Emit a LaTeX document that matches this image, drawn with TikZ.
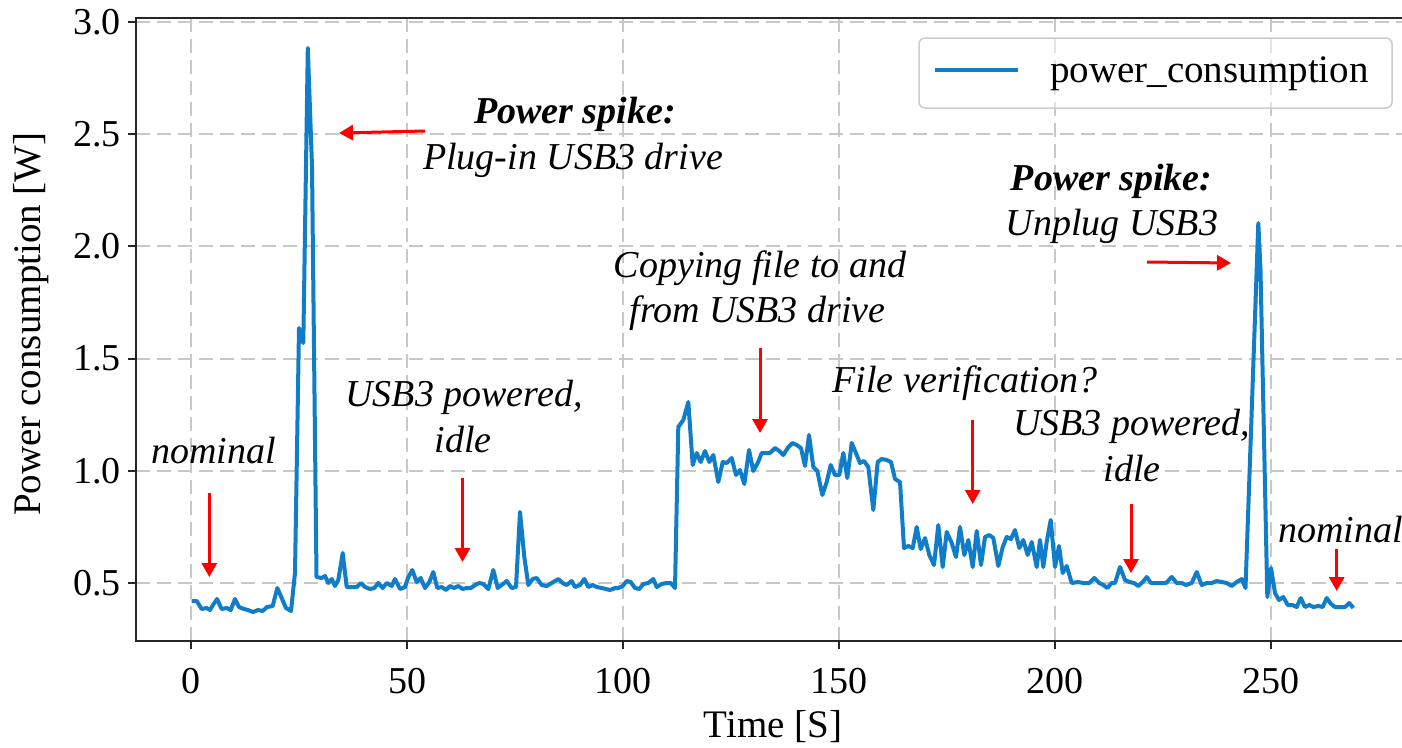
\documentclass[tikz,border=0pt]{standalone}
\usepackage{fontspec}
\setmainfont{Liberation Serif}
\usetikzlibrary{arrows.meta}
\definecolor{curveblue}{RGB}{16,125,200}
\definecolor{gridgray}{RGB}{200,200,200}
\begin{document}
\begin{tikzpicture}[x=1pt,y=-1pt,
  gridline/.style={draw=gridgray, line width=2pt, dash pattern=on 14pt off 7pt},
  spineline/.style={draw=black!85, line width=2.5pt},
  ticklabel/.style={font=\fontsize{38}{44}\selectfont, inner sep=0pt},
  axlabel/.style={font=\fontsize{39}{45}\selectfont, inner sep=0pt},
  anntext/.style={font=\fontsize{38}{44}\selectfont\itshape, anchor=base, inner sep=0pt},
  annbold/.style={font=\fontsize{38}{44}\selectfont\bfseries\itshape, anchor=base, inner sep=0pt},
  redarrow/.style={draw=red, line width=3pt, -{Triangle[length=14pt,width=15pt]}},
  datacurve/.style={draw=curveblue, line width=4pt, line join=round}
]
\clip (0,0) rectangle (1402,747);
\fill[white] (0,0) rectangle (1402,747);

% grid
\foreach \gx in {191,407,623,839,1055,1271} \draw[gridline] (\gx,641) -- (\gx,18);
\foreach \gy in {583.3,471,358.7,246.3,134,21.7} \draw[gridline] (136,\gy) -- (1402,\gy);

% spines and ticks
\draw[spineline] (1402,18) -- (136,18) -- (136,641) -- (1402,641);
\foreach \gy in {583.3,471,358.7,246.3,134,21.7} \draw[spineline,line width=2pt] (128,\gy) -- (136,\gy);
\foreach \gx in {191,407,623,839,1055,1271} \draw[spineline,line width=2pt] (\gx,641) -- (\gx,649);

% tick labels
\foreach \gy/\lab [count=\i] in {583.3/0.5,471/1.0,358.7/1.5,246.3/2.0,134/2.5,21.7/3.0}
  \node[ticklabel, anchor=east] (yl\i) at (121,\gy) {\lab};
\foreach \gx/\lab [count=\i] in {191/0,407/50,623/100,839/150,1055/200,1271/250}
  \node[ticklabel, anchor=base] (xl\i) at (\gx,693) {\lab};

% axis labels
\node[axlabel, anchor=base] (xlabel) at (773,737) {Time [S]};
\node[axlabel, anchor=base, rotate=90] (ylabel) at (40,324) {Power consumption [W]};

% legend
\draw[draw=gray!40, line width=1.5pt, rounded corners=6pt, fill=white, fill opacity=0.5] (919,38) rectangle (1392,108);
\coordinate (lg1) at (935,70);
\coordinate (lg2) at (1018,70);
\draw[datacurve] (lg1) -- (lg2);
\node[axlabel, anchor=base west] (legtext) at (1050,82) {power\_consumption};

% data curve
\draw[datacurve] plot coordinates {
(191.7,601) (196.7,601) (201.7,609) (206.7,608) (210,610) (213,605) (217,599) (221.7,609) (226.7,608) (230.7,610) (235,599) (239,607) (244,609) (248,610) (253,612) (258,610) (262.7,611) (267,607) (272.7,606) (277.3,588) (281.7,598) (286,608) (291,611) (295,573) (299,328) (303.3,343) (307.8,48) (312,166) (316.5,577)
(321.7,578) (325,576) (328.3,583) (331.7,579) (335,586) (338.3,580) (342.7,553) (346.7,587) (351.7,587) (356.7,587) (361,583) (365,587) (370,589) (374.3,588) (378.3,583) (382.7,588) (386.7,583) (391.7,586) (395,579) (400,589) (405,587) (408,578) (412.3,570) (416.7,582) (420.7,578) (425,588) (429.3,582) (433.3,572) (437.3,588) (441.7,587) (446,590) (450,586) (454,588) (458.3,586) (462.7,589) (466.7,588) (471,588) (475,585) (479.3,583) (483.3,584) (488.3,589) (493.3,570) (497.7,588) (501.7,585) (506.7,581) (511.7,588) (516,587) (520,512) (524.3,557) (528.3,585) (532.7,579) (536.7,578) (541.7,585) (546.7,586) (551.7,583) (558.3,579) (562.7,583) (566.7,585) (571.7,581) (575,587) (580,585) (584.3,579) (588.3,587) (592.7,585) (596.7,587) (601.7,588) (606,589) (610,590) (615,588) (618.3,588) (622.7,586) (626.7,581) (630.7,582) (635,588) (639.3,589) (643.3,584) (648.3,583) (653.3,579) (656.7,587) (661.7,584) (666.7,583) (670.7,583) (675,588)
(678.3,427) (683.3,420) (688.3,402) (692.7,465) (696.7,453) (700.7,462) (705,451) (709.3,462) (713.3,455) (718.3,482) (722.7,462) (726.7,463) (731.7,458) (736,475) (740,470) (744.3,484) (749,450) (753.3,471) (757.7,463) (761.7,453) (766,453) (770,453) (775,448) (779.3,451) (783.3,455) (787.7,448) (792.3,443) (796.7,445) (801,448) (805,466) (809,435) (813.3,467) (817.3,471) (822.3,495) (826.7,482) (830.7,465) (835,475) (839.3,475) (843.3,453) (847.3,478) (851.7,443) (856.7,455) (860,463) (864,461) (868.3,467) (873.3,510) (877.7,462) (881.7,459) (886.7,460) (891,462) (895,479) (900,482)
(904,548) (908.3,546) (912.7,548) (916.7,527) (920.7,549) (925,538) (929.3,555) (934,565) (938.3,525) (942.7,567) (946.7,532) (951.7,543) (956,557) (960,527) (964.3,555) (968.3,540) (972.7,567) (976.7,531) (981,565) (985,537) (989.3,535) (993.3,538) (998.3,566) (1002.7,547) (1006.7,537) (1011,539) (1015,530) (1019.3,548) (1023.3,540) (1027.7,555) (1031.7,542) (1036.7,567) (1040,540) (1043.3,567) (1046.7,542) (1050.7,520) (1055,567) (1059,546) (1062.7,573) (1066.7,566) (1071.7,583)
(1078.3,582) (1083.3,583) (1089.3,583) (1094.3,578) (1099.3,583) (1103.3,585) (1107.3,588) (1111.7,583) (1115,583) (1120,567) (1125,580) (1129.3,582) (1134,583) (1138.3,586) (1142.7,582) (1146.7,577) (1151,583) (1156,583) (1160,583) (1166,583) (1171.7,577) (1176.7,583) (1181.7,583) (1186,585) (1191.7,583) (1196.7,572) (1201.7,585) (1206.7,583) (1211.7,583) (1216.7,581) (1221.7,582) (1226.7,583) (1231.7,586) (1236.7,582) (1241.7,579) (1245.5,588) (1258.3,223) (1260.5,270) (1267.3,597) (1271,568) (1275,593) (1279,600) (1283.3,597) (1287.7,605) (1292.3,605) (1296.7,607) (1300.7,598) (1305,607) (1309.3,605) (1313.3,607) (1318.3,606) (1322.7,607) (1326.7,598) (1331,604) (1335,607) (1340,607) (1345,607) (1349.3,603) (1353.3,608)
};

% annotations
\node[annbold] (t1) at (575,123) {Power spike:};
\node[anntext] (t2) at (573,169) {Plug-in USB3 drive};
\node[anntext] (t3) at (213.7,463) {nominal};
\node[anntext] (t4) at (464,406) {USB3 powered,};
\node[anntext] (t5) at (463.3,452) {idle};
\node[anntext] (t6) at (760,277) {Copying file to and};
\node[anntext] (t7) at (757.5,322) {from USB3 drive};
\node[anntext] (t8) at (965,392) {File verification?};
\node[anntext] (t9) at (1131.7,435) {USB3 powered,};
\node[anntext] (t10) at (1132,481) {idle};
\node[anntext, anchor=base west] (t11) at (1278,542) {nominal};
\node[annbold] (t12) at (1111.7,190) {Power spike:};
\node[anntext] (t13) at (1112,235) {Unplug USB3};

% arrows
\coordinate (a1s) at (425,131); \coordinate (a1e) at (339,133);
\coordinate (a2s) at (209.3,492.7); \coordinate (a2e) at (209.3,577);
\coordinate (a3s) at (462.5,478); \coordinate (a3e) at (462.5,562);
\coordinate (a4s) at (760,348); \coordinate (a4e) at (760,433);
\coordinate (a5s) at (972.7,420); \coordinate (a5e) at (972.7,504);
\coordinate (a6s) at (1131,504); \coordinate (a6e) at (1131,573);
\coordinate (a7s) at (1336.7,549); \coordinate (a7e) at (1336.7,591);
\coordinate (a8s) at (1147,262); \coordinate (a8e) at (1231,263);
\foreach \k in {1,...,8} \draw[redarrow] (a\k s) -- (a\k e);
\end{tikzpicture}
\end{document}
